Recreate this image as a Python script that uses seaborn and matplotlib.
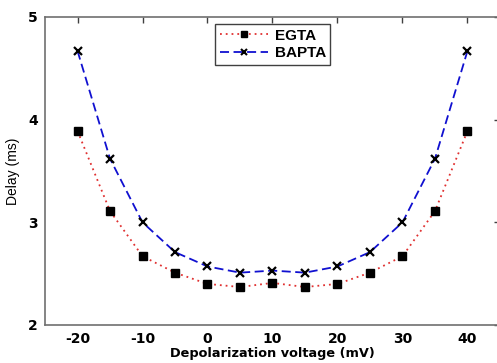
import numpy as np
import pandas as pd
import seaborn as sns
import matplotlib.pyplot as plt

voltage = [-20, -15, -10, -5, 0, 5, 10, 15, 20, 25, 30, 35, 40]
egta = [3.89, 3.11, 2.67, 2.51, 2.40, 2.37, 2.41, 2.37, 2.40, 2.51, 2.67, 3.11, 3.89]
bapta = [4.67, 3.62, 3.00, 2.71, 2.57, 2.51, 2.53, 2.51, 2.57, 2.71, 3.00, 3.62, 4.67]

data = pd.DataFrame({'Voltage': voltage, 'EGTA': egta, 'BAPTA': bapta})
long_data = pd.melt(data, ['Voltage'], var_name='Buffer', value_name='Delay')

sns.set_style('white')
plt.rcParams['font.family'] = ['DejaVu Sans']
plt.rcParams['axes.unicode_minus'] = False
plt.rcParams['text.color'] = 'black'
plt.rcParams['xtick.labelcolor'] = 'black'
plt.rcParams['ytick.labelcolor'] = 'black'
plt.rcParams['axes.labelcolor'] = 'black'

fig = plt.figure(figsize=(4.97, 3.63), dpi=100)
ax = fig.add_axes([45 / 497, 38 / 363, 455 / 497, 308 / 363])

sns.lineplot(data=long_data, x='Voltage', y='Delay', hue='Buffer', style='Buffer',
             palette={'EGTA': '#e03030', 'BAPTA': '#1010d0'},
             dashes={'EGTA': (1, 2.2), 'BAPTA': (5, 2.5)},
             markers={'EGTA': 's', 'BAPTA': 'X'},
             linewidth=1.3, ax=ax, legend=False)

# black markers on top of coloured lines
ax.plot(voltage, egta, linestyle='none', marker='s', color='black', markersize=6)
ax.plot(voltage, bapta, linestyle='none', marker='x', color='black', markersize=6,
        markeredgewidth=1.6)
for line in ax.lines[:2]:
    line.set_marker('')

# legend handles
h1, = ax.plot([], [], color='#e03030', linestyle=(0, (1, 2.2)), marker='s',
              markerfacecolor='black', markeredgecolor='black', markersize=5, linewidth=1.3)
h2, = ax.plot([], [], color='#1010d0', linestyle=(0, (5, 2.5)), marker='x',
              markerfacecolor='black', markeredgecolor='black', markersize=5,
              markeredgewidth=1.5, linewidth=1.3)
leg = ax.legend([h1, h2], ['EGTA', 'BAPTA'], loc='upper left',
                bbox_to_anchor=(170 / 455, 1 - 7 / 308), handlelength=3.2,
                fancybox=False, framealpha=1, borderpad=0.3, labelspacing=0.25,
                handletextpad=0.4, borderaxespad=0,
                prop={'family': 'Liberation Sans', 'weight': 'bold', 'size': 11})
leg.get_frame().set_edgecolor('#404040')
leg.get_frame().set_linewidth(1.0)

ax.set_xlim(-25, 45)
ax.set_ylim(2, 5)
ax.set_xticks([-20, -10, 0, 10, 20, 30, 40])
ax.set_yticks([2, 3, 4, 5])
ax.tick_params(direction='in', length=4, width=1, color='#404040', top=True, right=True,
               labelsize=10, pad=5)
for lab in ax.get_xticklabels() + ax.get_yticklabels():
    lab.set_fontweight('bold')
for sp in ax.spines.values():
    sp.set_color('#707070')
    sp.set_linewidth(1.2)

ax.set_xlabel('Depolarization voltage (mV)', fontsize=9.3, fontweight='bold', labelpad=1)
ax.set_ylabel('Delay (ms)', fontsize=10, family='Liberation Sans', labelpad=6)

fig.savefig('out.png', dpi=100)
